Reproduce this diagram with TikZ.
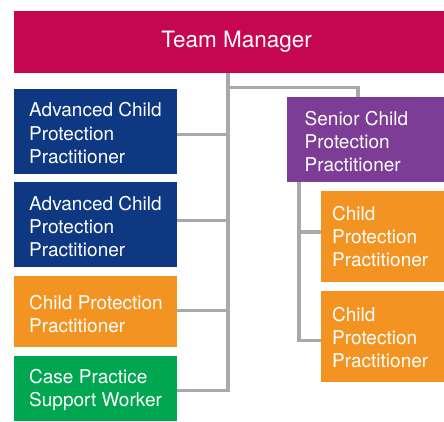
\documentclass[tikz,border=0pt]{standalone}
\usepackage{fontspec}
\setmainfont{TeX Gyre Heros}
\usetikzlibrary{backgrounds}
\definecolor{tmred}{RGB}{198,6,81}
\definecolor{navy}{RGB}{15,56,130}
\definecolor{plum}{RGB}{125,60,150}
\definecolor{amber}{RGB}{243,148,34}
\definecolor{leaf}{RGB}{0,166,80}
\definecolor{wiregrey}{RGB}{167,169,172}

\begin{document}
\begin{tikzpicture}[x=1pt,y=-1pt,
  box/.style={rectangle, draw=none, inner sep=0pt, anchor=north west},
  lbl/.style={text=white, align=left, inner sep=0pt, anchor=west,
              font=\fontsize{19}{23.3}\selectfont},
  wire/.style={draw=wiregrey, line width=3.3pt}]
\useasboundingbox (0,0) rectangle (444,421);

% boxes
\node[box, fill=tmred, minimum width=445, minimum height=62] (tm) at (14,11) {};
\node[text=white, inner sep=0pt, font=\fontsize{22.5}{27}\selectfont] (tmt) at (tm.center) {Team Manager};

\node[box, fill=navy,  minimum width=163, minimum height=85] (b1) at (14,89) {};
\node[box, fill=navy,  minimum width=163, minimum height=85] (b2) at (14,182) {};
\node[box, fill=amber, minimum width=163, minimum height=71] (o1) at (14,276) {};
\node[box, fill=leaf,  minimum width=163, minimum height=65] (g1) at (14,356) {};

\node[box, fill=plum,  minimum width=170, minimum height=85] (sp)  at (287,97) {};
\node[box, fill=amber, minimum width=135, minimum height=91] (ro1) at (321,191) {};
\node[box, fill=amber, minimum width=135, minimum height=91] (ro2) at (321,291) {};

% labels
\node[lbl] (b1t) at ([xshift=15pt,yshift=-1.5pt]b1.west) {Advanced Child\\Protection\\Practitioner};
\node[lbl] (b2t) at ([xshift=15pt,yshift=-2pt]b2.west) {Advanced Child\\Protection\\Practitioner};
\node[lbl] (o1t) at ([xshift=15pt,yshift=-2.5pt]o1.west) {Child Protection\\Practitioner};
\node[lbl] (g1t) at ([xshift=15pt,yshift=-1pt]g1.west) {Case Practice\\Support Worker};
\node[lbl] (spt) at ([xshift=17.5pt,yshift=-2pt]sp.west) {Senior Child\\Protection\\Practitioner};
\node[lbl] (ro1t) at ([xshift=11pt,yshift=0pt]ro1.west) {Child\\Protection\\Practitioner};
\node[lbl] (ro2t) at ([xshift=11pt,yshift=-1pt]ro2.west) {Child\\Protection\\Practitioner};

% connectors
\coordinate (spine) at (228,0);
\coordinate (fork) at (228,87.7);
\coordinate (drop) at (358,0);
\coordinate (sub) at (299,0);
\begin{scope}[on background layer]
  \draw[wire] (tm.south -| spine) |- ([yshift=-1.5pt]g1.east);
  \draw[wire] ([yshift=-3pt]b1.east) -- ([yshift=-3pt]b1.east -| spine);
  \draw[wire] ([yshift=4pt]b2.east) -- ([yshift=4pt]b2.east -| spine);
  \draw[wire] ([yshift=1pt]o1.east) -- ([yshift=1pt]o1.east -| spine);
  \draw[wire] (fork) -| (drop |- sp.north);
  \draw[wire] (sp.south -| sub) |- ([yshift=-3.5pt]ro2.west);
  \draw[wire] ([yshift=4.8pt]ro1.west) -- ([yshift=4.8pt]ro1.west -| sub);
\end{scope}
\end{tikzpicture}
\end{document}
